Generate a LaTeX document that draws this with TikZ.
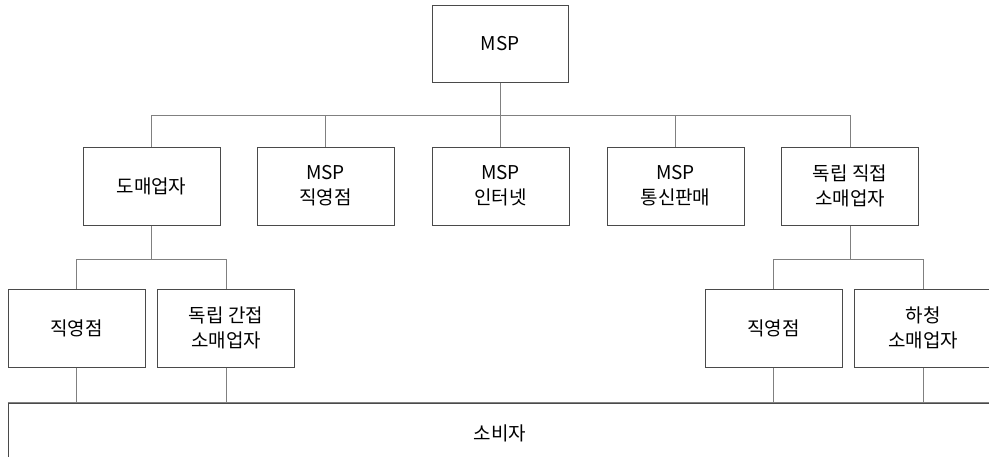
\documentclass[tikz,border=0pt]{standalone}
\usepackage{fontspec}
\setmainfont{Noto Sans CJK KR}
\definecolor{boxline}{HTML}{4A4A4A}
\definecolor{conline}{HTML}{808080}
\begin{document}
\begin{tikzpicture}[x=1pt,y=-1pt,
  box/.style={draw=boxline,line width=1pt,rectangle,inner sep=0pt,
    minimum width=137pt,minimum height=78pt,align=center,
    font=\fontsize{19}{25}\selectfont},
  con/.style={draw=conline,line width=1pt}]
\useasboundingbox (0,0) rectangle (989,456);
\clip (0,0) rectangle (989,456);
\node[box,minimum width=136pt,minimum height=77pt] (msp) at (500,43.5) {MSP};
\node[box] (whole) at (151.5,186) {도매업자};
\node[box] (mspdir) at (325.5,186) {MSP\\직영점};
\node[box] (mspnet) at (500.5,186) {MSP\\인터넷};
\node[box] (mspmail) at (675.5,186) {MSP\\통신판매};
\node[box] (indir) at (850,186) {독립 직접\\소매업자};
\node[box] (ldir) at (76.5,328) {직영점};
\node[box] (lind) at (226,328) {독립 간접\\소매업자};
\node[box] (rdir) at (773.5,328) {직영점};
\node[box] (rsub) at (923,328) {하청\\소매업자};
\node[box,minimum width=984pt,minimum height=60pt] (cons) at (500,433) {소비자};
\coordinate (bus1) at (0,115);
\coordinate (bus2) at (0,259);
\coordinate (bus3) at (0,403);
% top level
\draw[con] (msp.south) -- (msp.south |- bus1);
\draw[con] (whole.north) -- (whole.north |- bus1) -- (indir.north |- bus1) -- (indir.north);
\draw[con] (mspdir.north) -- (mspdir.north |- bus1);
\draw[con] (mspnet.north) -- (mspnet.north |- bus1);
\draw[con] (mspmail.north) -- (mspmail.north |- bus1);
% left sub tree
\draw[con] (whole.south) -- (whole.south |- bus2);
\draw[con] (ldir.north) -- (ldir.north |- bus2) -- (lind.north |- bus2) -- (lind.north);
% right sub tree
\draw[con] (indir.south) -- (indir.south |- bus2);
\draw[con] (rdir.north) -- (rdir.north |- bus2) -- (rsub.north |- bus2) -- (rsub.north);
% to consumers
\draw[con] (ldir.south) -- (cons.north -| ldir.south);
\draw[con] (lind.south) -- (cons.north -| lind.south);
\draw[con] (rdir.south) -- (cons.north -| rdir.south);
\draw[con] (rsub.south) -- (cons.north -| rsub.south);
\draw[con] (cons.north west) -- (cons.north east);
\end{tikzpicture}
\end{document}
